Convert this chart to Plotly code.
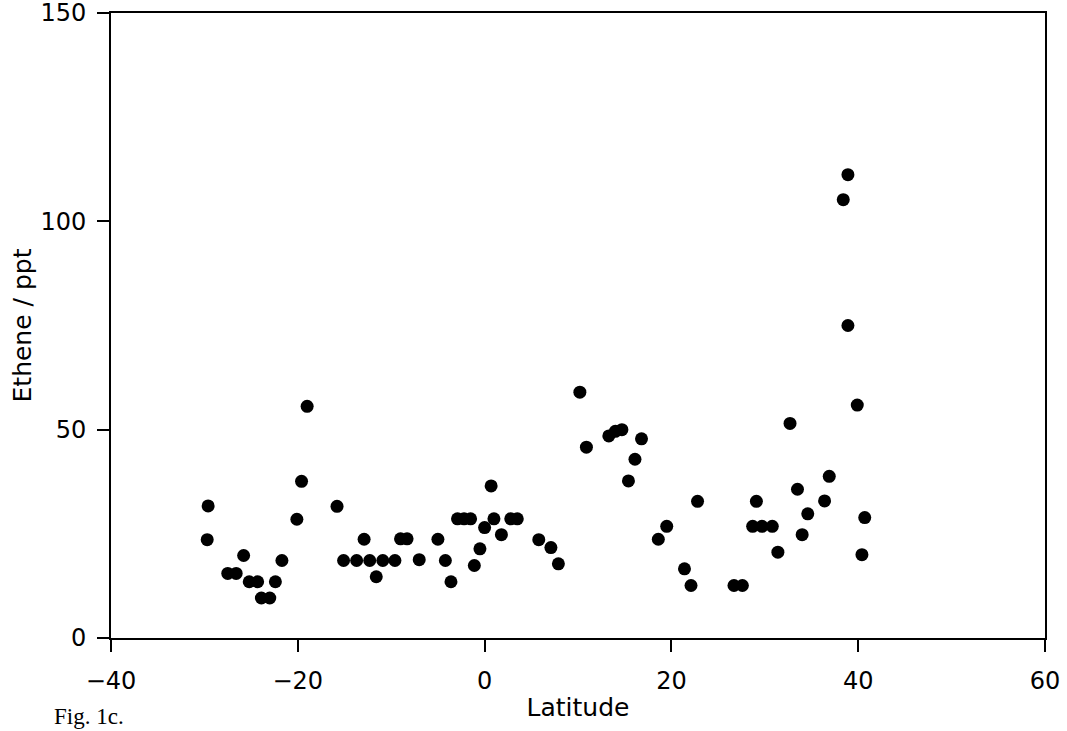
import plotly.graph_objects as go

latitude = [-29.6, -29.7, -27.5, -26.6, -25.8, -25.2, -24.3, -23.9, -23.0, -22.4,
            -21.7, -20.1, -19.6, -19.0, -15.8, -15.1, -13.7, -12.9, -12.3, -11.6,
            -10.9, -9.6, -9.0, -8.3, -7.0, -5.0, -4.2, -3.6, -2.9, -2.2,
            -1.5, -1.1, -0.5, 0.0, 0.7, 1.0, 1.8, 2.8, 3.5, 5.8,
            7.1, 7.9, 10.2, 10.9, 13.3, 14.0, 14.7, 15.4, 16.1, 16.8,
            18.6, 19.5, 21.4, 22.1, 22.8, 26.7, 27.6, 28.7, 29.1, 29.7,
            30.8, 31.4, 32.7, 33.5, 34.0, 34.6, 36.4, 36.9, 38.4, 38.9,
            38.9, 39.9, 40.4, 40.7]
ethene = [31.7, 23.6, 15.5, 15.5, 19.8, 13.5, 13.5, 9.6, 9.6, 13.5,
          18.6, 28.5, 37.6, 55.6, 31.6, 18.6, 18.6, 23.7, 18.6, 14.7,
          18.6, 18.6, 23.8, 23.8, 18.8, 23.7, 18.6, 13.5, 28.6, 28.6,
          28.6, 17.4, 21.4, 26.5, 36.5, 28.6, 24.8, 28.6, 28.6, 23.6,
          21.7, 17.8, 59.0, 45.8, 48.5, 49.6, 50.0, 37.7, 42.9, 47.8,
          23.7, 26.8, 16.6, 12.6, 32.8, 12.6, 12.6, 26.8, 32.8, 26.8,
          26.8, 20.6, 51.5, 35.7, 24.8, 29.8, 32.9, 38.8, 105.2, 111.2,
          75.0, 55.9, 20.0, 28.9]

x_ticks = [-40, -20, 0, 20, 40, 60]
y_ticks = [0, 50, 100, 150]

SANS = "DejaVu Sans, Liberation Sans, Arial, sans-serif"

fig = go.Figure()
fig.add_trace(go.Scatter(
    x=latitude, y=ethene, mode="markers",
    marker=dict(color="black", size=13, line=dict(width=0)),
    showlegend=False, hoverinfo="skip",
))

axis_common = dict(
    showline=True, linecolor="black", linewidth=2, mirror=True,
    ticks="outside", ticklen=12, tickwidth=2, tickcolor="black",
    showgrid=False, zeroline=False, automargin=False,
    ticklabeloverflow="allow",
    tickfont=dict(family=SANS, size=24, color="black"),
)

fig.update_xaxes(range=[-40, 60], tickvals=x_ticks, ticklabelstandoff=8,
                 title=dict(text="Latitude", standoff=5,
                            font=dict(family=SANS, size=25, color="black")),
                 **axis_common)
fig.update_yaxes(range=[0, 150], tickvals=y_ticks, ticklabelstandoff=6,
                 title=dict(text="Ethene / ppt", standoff=2,
                            font=dict(family=SANS, size=25, color="black")),
                 **axis_common)

fig.add_annotation(text="Fig. 1c.", xref="paper", yref="paper",
                   x=-0.063, y=-0.125, xanchor="left", yanchor="middle", showarrow=False,
                   font=dict(family="Liberation Serif, Times New Roman, serif", size=23, color="black"))

fig.update_layout(
    width=1067, height=731,
    margin=dict(l=111, r=22, t=13, b=93),
    plot_bgcolor="white", paper_bgcolor="white",
)

fig.write_html("out.html", config={"displayModeBar": False},
               post_script="document.body.style.margin='0';document.body.style.overflow='hidden';")
